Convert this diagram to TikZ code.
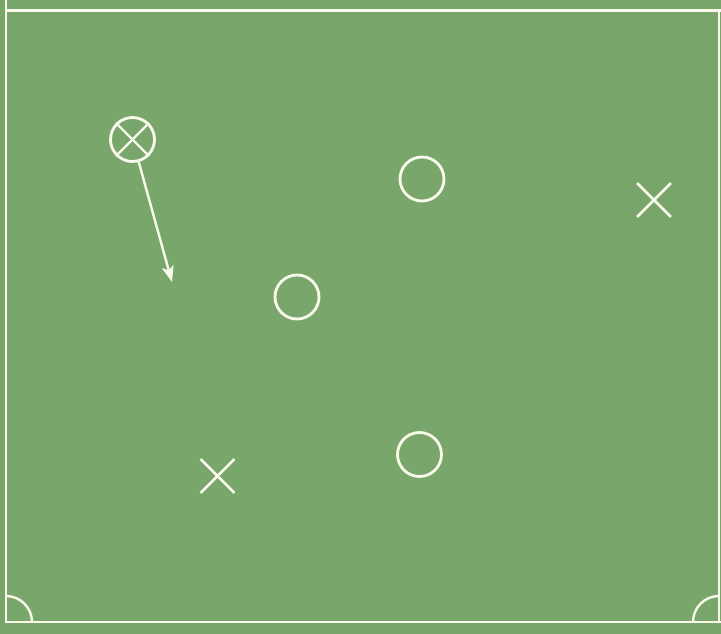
\documentclass[tikz,border=0pt]{standalone}
\usetikzlibrary{shapes.misc,arrows.meta}
\definecolor{pitch}{RGB}{121,167,107}
\definecolor{chalk}{RGB}{250,250,236}
\tikzset{
  mark line/.style={draw=chalk, line width=2.4pt},
  player/.style={circle, draw=chalk, line width=2.8pt, minimum size=44pt, inner sep=0pt},
  opponent/.style={cross out, draw=chalk, line width=2.8pt, minimum size=31pt, inner sep=0pt},
  run/.style={draw=chalk, line width=2.4pt, -{Stealth[length=16pt,width=12pt,inset=4pt]}}
}
\begin{document}
\begin{tikzpicture}[x=1pt,y=-1pt]
\fill[pitch] (0,0) rectangle (721,634);
\useasboundingbox (0,0) rectangle (721,634);
% pitch lines
\draw[mark line] (6,0) -- (6,622) -- (721,622);
\draw[mark line] (6,10.5) -- (721,10.5);
\draw[mark line] (719,10.5) -- (719,622);
\draw[mark line] (6,596) arc[start angle=-90, end angle=0, radius=26];
\draw[mark line] (693,622) arc[start angle=180, end angle=270, radius=26];
% players
\node[player] (ball) at (132.5,139.5) {};
\draw[mark line] (ball.45) -- (ball.225);
\draw[mark line] (ball.135) -- (ball.315);
\coordinate (target) at (172,282);
\draw[run] (ball) -- (target);
\node[player] (p1) at (422,179) {};
\node[player] (p2) at (297,297) {};
\node[player] (p3) at (419.5,454.5) {};
\node[opponent] (x1) at (654,200) {};
\node[opponent] (x2) at (217.5,476) {};
\end{tikzpicture}
\end{document}
